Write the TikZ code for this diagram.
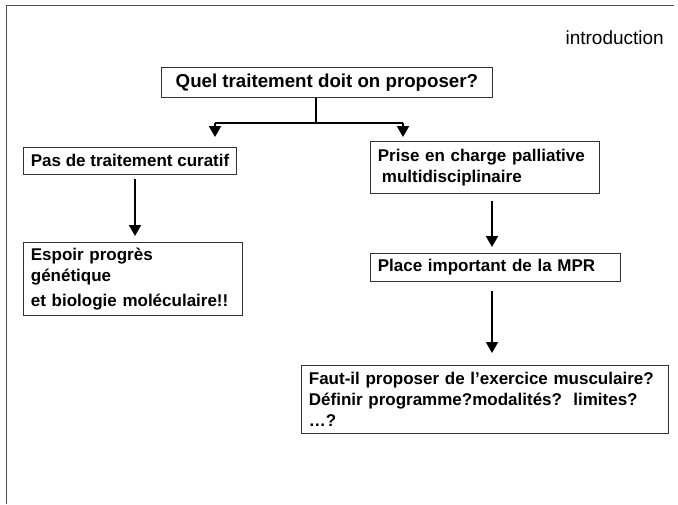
\documentclass[tikz,border=0pt]{standalone}
\usepackage{fontspec}
\setmainfont{Liberation Sans}
\usetikzlibrary{arrows.meta}

\begin{document}
\begin{tikzpicture}
      [x=1pt,y=-1pt,
       box/.style={draw=black!80,line width=0.8pt,inner xsep=7.5pt,inner ysep=0pt,
                   align=left,anchor=north west,font=\bfseries\fontsize{17}{21}\selectfont},
       arr/.style={line width=2pt,-{Triangle[width=12pt,length=11pt]}}]
      \useasboundingbox (0,0) rectangle (678,504);
      \draw[black!70,line width=1pt] (674,5) -- (6,5) -- (6,504);
      \node[anchor=east,inner sep=0pt,font=\fontsize{19}{22}\selectfont] (intro) at (664,38) {introduction};
      \node[box,align=center,minimum width=331pt,minimum height=30pt,
            font=\bfseries\fontsize{18.7}{22}\selectfont] (quel) at (161,67) {Quel traitement doit on proposer?};
      \node[box,minimum width=213pt,minimum height=27pt] (pas) at (23,147) {Pas de traitement curatif};
      \node[box,text width=204pt,minimum height=73pt] (espoir) at (23,242)
        {Espoir progrès\\génétique\\[4pt]et biologie moléculaire!!};
      \node[box,text width=214pt,minimum height=52pt] (prise) at (370,141)
        {Prise en charge palliative\\\hspace*{4pt}multidisciplinaire};
      \node[box,text width=235pt,minimum height=28pt] (place) at (370,253) {Place important de la MPR};
      \node[box,text width=352pt,minimum height=68pt] (faut) at (301,365)
        {Faut-il proposer de l’exercice musculaire?\\Définir programme?modalités?\ \ limites?\\…?};
      % branches
      \coordinate (split) at (316,123);
      \coordinate (left) at (215,123);
      \coordinate (right) at (403,123);
      \draw[line width=2.2pt] (quel.south -| split) -- (split);
      \draw[line width=2.4pt] (left) -- (right);
      \draw[arr,shorten >=10pt] (left) -- (left |- pas.north);
      \draw[arr,shorten >=4pt] (right) -- (right |- prise.north);
      \coordinate (lcol) at (135,0);
      \coordinate (rcol) at (492,0);
      \draw[arr,shorten <=4pt,shorten >=6pt] (pas.south -| lcol) -- (espoir.north -| lcol);
      \draw[arr,shorten <=7pt,shorten >=6pt] (prise.south -| rcol) -- (place.north -| rcol);
      \draw[arr,shorten <=9pt,shorten >=12pt] (place.south -| rcol) -- (faut.north -| rcol);
\end{tikzpicture}
\end{document}
